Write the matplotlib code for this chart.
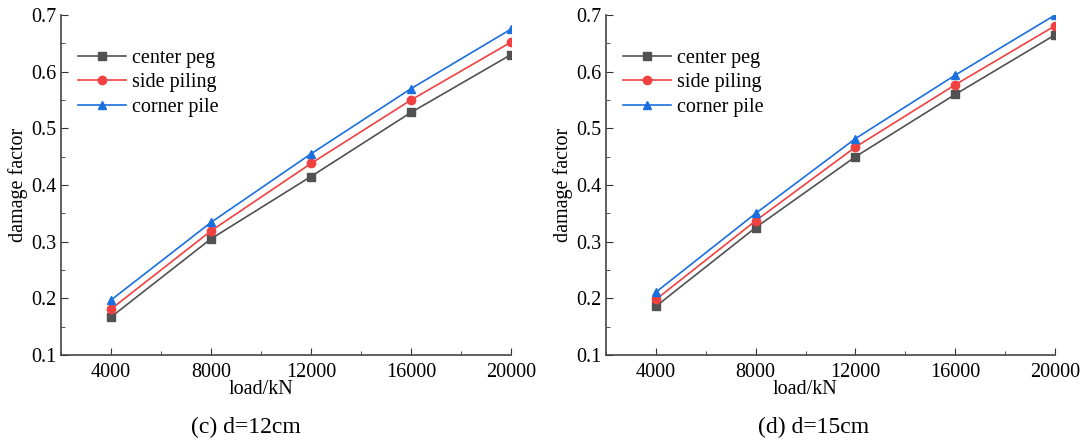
import matplotlib.pyplot as plt
from matplotlib.ticker import MultipleLocator

plt.rcParams['font.family'] = ['Liberation Serif', 'DejaVu Serif']
plt.rcParams['mathtext.fontset'] = 'stix'

loads = [4000, 8000, 12000, 16000, 20000]

# d = 12cm
center_12 = [0.167, 0.305, 0.415, 0.528, 0.630]
side_12 = [0.181, 0.319, 0.438, 0.550, 0.652]
corner_12 = [0.197, 0.334, 0.455, 0.570, 0.675]

# d = 15cm
center_15 = [0.186, 0.325, 0.450, 0.560, 0.665]
side_15 = [0.198, 0.337, 0.467, 0.577, 0.681]
corner_15 = [0.211, 0.350, 0.482, 0.594, 0.700]

names = ['center peg', 'side piling', 'corner pile']
colors = ['#515151', '#F14040', '#1A6FDF']
markers = ['s', 'o', '^']

fig = plt.figure(figsize=(10.83, 4.43), dpi=100)
ax1 = fig.add_axes([0.0563, 0.1986, 0.4155, 0.7675])
ax2 = fig.add_axes([0.5596, 0.1986, 0.4146, 0.7675])

panels = [
    (ax1, [center_12, side_12, corner_12], '(c) d=12cm', 0.227, 0.444),
    (ax2, [center_15, side_15, corner_15], '(d) d=15cm', 0.751, 0.443),
]

for ax, series, caption, cap_x, lab_x in panels:
    for vals, name, c, m in zip(series, names, colors, markers):
        ax.plot(loads, vals, color=c, marker=m, markersize=6, linewidth=1.2, label=name)
    ax.set_xlim(2000, 20000)
    ax.set_ylim(0.1, 0.7)
    ax.xaxis.set_major_locator(MultipleLocator(4000))
    ax.xaxis.set_minor_locator(MultipleLocator(2000))
    ax.yaxis.set_major_locator(MultipleLocator(0.1))
    ax.yaxis.set_minor_locator(MultipleLocator(0.05))
    ax.tick_params(which='both', direction='in', labelsize=14.5, color='#333333')
    ax.tick_params(which='major', length=5)
    ax.tick_params(which='minor', length=3)
    ax.tick_params(axis='x', pad=6)
    ax.spines['top'].set_visible(False)
    ax.spines['right'].set_visible(False)
    for s in ['left', 'bottom']:
        ax.spines[s].set_color('#444444')
        ax.spines[s].set_linewidth(1.2)
    ax.set_xlabel('load/kN', fontsize=14.5)
    ax.xaxis.set_label_coords(lab_x, -0.072)
    ax.set_ylabel('damage factor', fontsize=14.5, labelpad=2)
    ax.legend(loc='upper left', bbox_to_anchor=(0.01, 0.935), frameon=False,
              fontsize=14.5, handlelength=2.4, handletextpad=0.3,
              labelspacing=0.25, borderaxespad=0.2)
    fig.text(cap_x, 0.035, caption, fontsize=17, ha='center', va='center')

fig.savefig('out.png', dpi=100)
